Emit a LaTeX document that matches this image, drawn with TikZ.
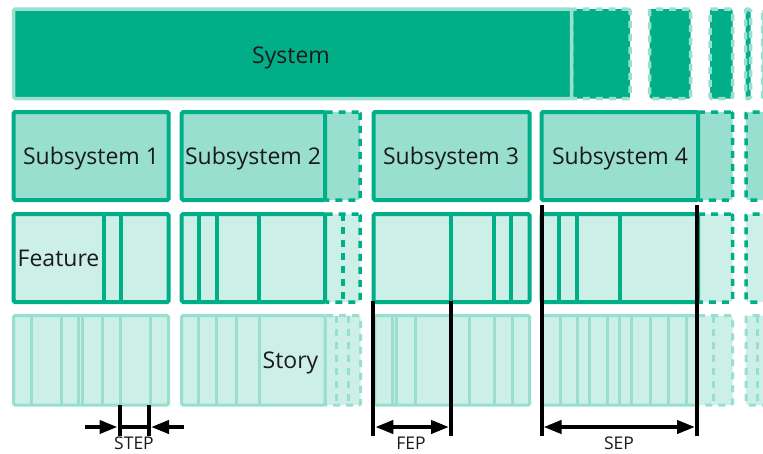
\documentclass[tikz,border=0pt]{standalone}
\usepackage{fontspec}
\setmainfont{Open Sans}
\usetikzlibrary{fit,arrows.meta}
\definecolor{dk}{HTML}{00AE88}
\definecolor{lt}{HTML}{99DFCF}
\definecolor{pl}{HTML}{CCEFE7}
\definecolor{ink}{HTML}{1A1A1A}
\begin{document}
\begin{tikzpicture}[x=1pt,y=-1pt,
  box/.style={inner sep=0pt, outer sep=0pt, rounded corners=1.5pt},
  dsh/.style={dash pattern=on 7pt off 6pt},
  sysbox/.style={box, fill=dk, draw=lt, line width=3.5pt},
  sysghost/.style={sysbox, dsh},
  subbox/.style={box, fill=lt, draw=dk, line width=4pt},
  subghost/.style={box, fill=lt, draw=dk, line width=3.5pt, dsh},
  featbox/.style={box, fill=pl, draw=dk, line width=4pt},
  featghost/.style={box, fill=pl, draw=dk, line width=3.5pt, dsh},
  storybox/.style={box, fill=pl, draw=lt, line width=3pt},
  storyghost/.style={box, fill=pl, draw=lt, line width=3pt, dsh},
  fdiv/.style={draw=dk, line width=4pt},
  fdivghost/.style={draw=dk, line width=3.5pt, dsh},
  sdiv/.style={draw=lt, line width=3pt},
  sdivghost/.style={draw=lt, line width=3pt, dsh},
  bigtxt/.style={font=\fontsize{23}{27}\selectfont, text=ink, inner sep=0pt},
  smalltxt/.style={font=\fontsize{17.5}{21}\selectfont, text=ink, inner sep=0pt},
  measline/.style={draw=black, line width=4pt},
  measarrow/.style={draw=black, line width=4pt, arrows={-Triangle[length=18pt,width=13pt]}},
  measdouble/.style={draw=black, line width=4pt, arrows={Triangle[length=18pt,width=13pt]-Triangle[length=18pt,width=13pt]}}
]
\useasboundingbox (0,0) rectangle (763,453);
\clip (0,0) rectangle (763,453);

% ---------- Row 1: System ----------
\node[sysghost, fit={(571.5,9) (630,98.5)}] (g11) {};
\node[sysghost, fit={(649.5,9) (690.5,98.5)}] (g12) {};
\node[sysghost, fit={(710,9) (732.5,98.5)}] (g13) {};
\node[sysghost, fit={(745.5,9) (750.5,98.5)}] (g14) {};
\node[sysghost, fit={(762.5,9) (800,98.5)}] (g15) {};
\node[sysbox, fit={(13.5,9) (571.5,98.5)}] (sys) {};
\node[bigtxt, anchor=base] (systxt) at (291,63.3) {System};

% ---------- Row 2: Subsystems ----------
\node[subghost, fit={(325,112) (360,200)}] (g21) {};
\node[subghost, fit={(698,112) (732.5,200)}] (g22) {};
\node[subghost, fit={(746,112) (800,200)}] (g23) {};
\node[subbox, fit={(13.5,112) (168.7,200)}] (sub1) {};
\node[subbox, fit={(181.7,112) (325,200)}] (sub2) {};
\node[subbox, fit={(373.5,112) (529.5,200)}] (sub3) {};
\node[subbox, fit={(541.5,112) (698,200)}] (sub4) {};
\node[bigtxt, anchor=base] (sub1t) at (91,164.5) {Subsystem 1};
\node[bigtxt, anchor=base] (sub2t) at (253,164.5) {Subsystem 2};
\node[bigtxt, anchor=base] (sub3t) at (451,164.5) {Subsystem 3};
\node[bigtxt, anchor=base] (sub4t) at (620,164.5) {Subsystem 4};

% ---------- Row 3: Features ----------
\node[featghost, fit={(325,214) (360,302)}] (g31) {};
\draw[fdivghost] (343,214) -- (343,302);
\node[featghost, fit={(698,214) (732.5,302)}] (g32) {};
\node[featghost, fit={(746,214) (800,302)}] (g33) {};
\node[featbox, fit={(13.5,214) (168.7,302)}] (f1) {};
\node[featbox, fit={(181.7,214) (325,302)}] (f2) {};
\node[featbox, fit={(373.5,214) (529.5,302)}] (f3) {};
\node[featbox, fit={(541.5,214) (698,302)}] (f4) {};
\foreach \x in {103.5,120.5,199.2,217,259,451,493.5,511,559,577,619.5}
  \draw[fdiv] (\x,214) -- (\x,302);
\node[bigtxt, anchor=base west] (ft) at (17.5,266.5) {Feature};

% ---------- Row 4: Stories ----------
\node[storyghost, fit={(325,315.5) (360.7,405)}] (g41) {};
\node[storyghost, fit={(697,315.5) (732.5,405)}] (g42) {};
\node[storyghost, fit={(746,315.5) (800,405)}] (g43) {};
\foreach \x in {336.7,348.3,713.5,757}
  \draw[sdivghost] (\x,315.5) -- (\x,405);
\node[storybox, fit={(13.5,315.5) (168.5,405)}] (s1) {};
\node[storybox, fit={(181.5,315.5) (325,405)}] (s2) {};
\node[storybox, fit={(374.7,315.5) (529.7,405)}] (s3) {};
\node[storybox, fit={(541.7,315.5) (696.7,405)}] (s4) {};
\foreach \x in {31.7,61,78.8,82,102.2,120.2,150.3,
                198.7,216.7,236,259,
                392.8,396.3,415.5,451.7,469.7,494,512,
                560,577,589,607.3,619,631.3,650,668,686}
  \draw[sdiv] (\x,315.5) -- (\x,405);
\node[bigtxt, anchor=base east] (st) at (318.5,368.5) {Story};

% ---------- Measurements ----------
% STEP
\coordinate (stepAt) at (119.5,405);
\coordinate (stepAb) at (119.5,436);
\coordinate (stepBt) at (149,405);
\coordinate (stepBb) at (149,436);
\coordinate (stepAm) at (119.5,427);
\coordinate (stepBm) at (149,427);
\coordinate (stepLin) at (117.5,427);
\coordinate (stepRin) at (151,427);
\coordinate (stepLout) at (85,427);
\coordinate (stepRout) at (184,427);
\draw[measline] (stepAt) -- (stepAb);
\draw[measline] (stepBt) -- (stepBb);
\draw[measline] (stepAm) -- (stepBm);
\draw[measarrow] (stepLout) -- (stepLin);
\draw[measarrow] (stepRout) -- (stepRin);
\node[smalltxt, anchor=base] (steptxt) at (134,449.3) {STEP};

% FEP
\coordinate (fepAt) at (373.3,301);
\coordinate (fepAb) at (373.3,436);
\coordinate (fepBt) at (451,301);
\coordinate (fepBb) at (451,436);
\coordinate (fepL) at (375.3,427);
\coordinate (fepR) at (449,427);
\draw[measline] (fepAt) -- (fepAb);
\draw[measline] (fepBt) -- (fepBb);
\draw[measdouble] (fepL) -- (fepR);
\node[smalltxt, anchor=base] (feptxt) at (411,449.3) {FEP};

% SEP
\coordinate (sepAt) at (541.5,205);
\coordinate (sepAb) at (541.5,436);
\coordinate (sepBt) at (697,205);
\coordinate (sepBb) at (697,436);
\coordinate (sepL) at (543.5,427);
\coordinate (sepR) at (695,427);
\draw[measline] (sepAt) -- (sepAb);
\draw[measline] (sepBt) -- (sepBb);
\draw[measdouble] (sepL) -- (sepR);
\node[smalltxt, anchor=base] (septxt) at (619,449.3) {SEP};
\end{tikzpicture}
\end{document}
